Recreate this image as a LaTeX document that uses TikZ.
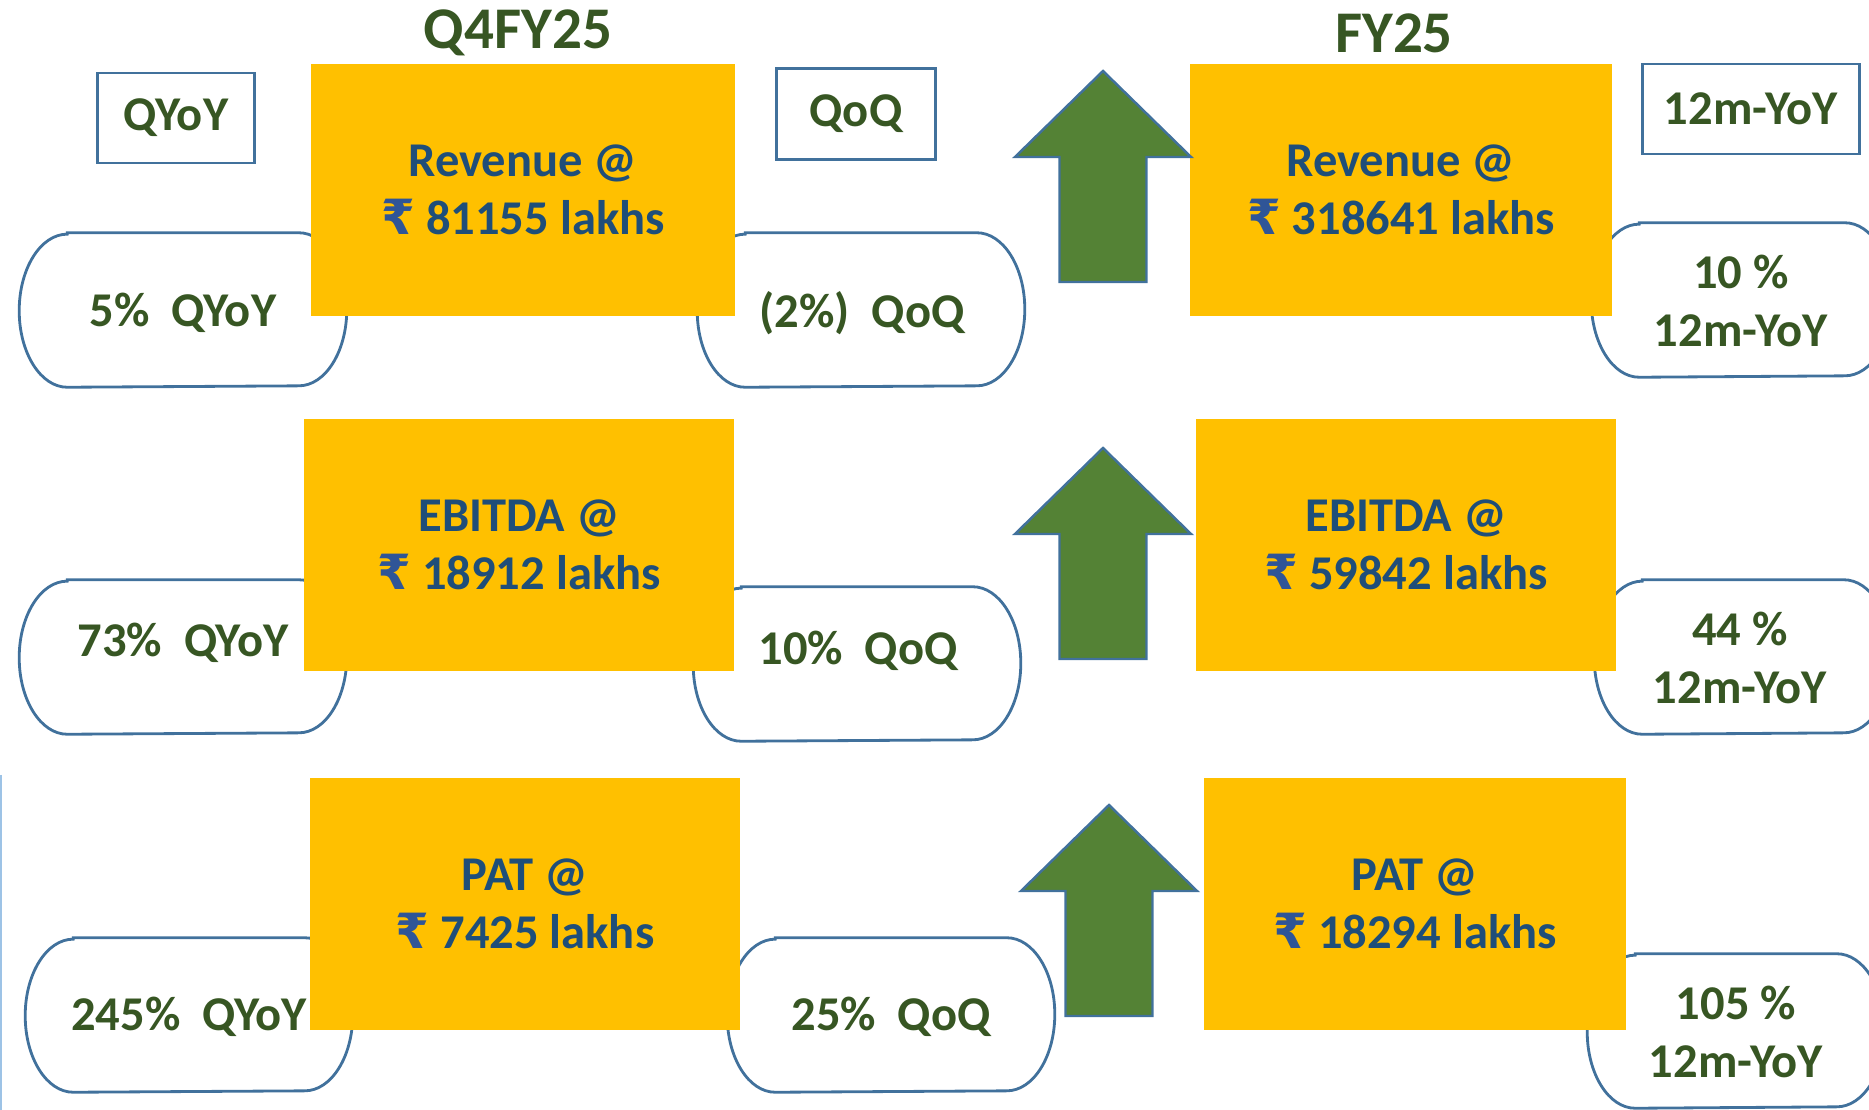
\documentclass[tikz,border=0pt]{standalone}
\usepackage{fontspec}
\setmainfont{Carlito}
\newfontfamily\rupeefont{DejaVu Sans}
\usetikzlibrary{positioning}
\definecolor{metricyellow}{HTML}{FFC000}
\definecolor{metricblue}{HTML}{1F4E79}
\definecolor{rupeeblue}{HTML}{2F5597}
\definecolor{growthgreen}{HTML}{375623}
\definecolor{arrowgreen}{HTML}{548235}
\definecolor{outlineblue}{HTML}{41719C}
\definecolor{edgeblue}{HTML}{9DC3E6}
\newcommand{\inr}{{\color{rupeeblue}\rupeefont\bfseries ₹}}

\begin{document}
\begin{tikzpicture}[x=0.01cm, y=-0.01cm]
\tikzstyle{metric} = [rectangle, minimum width=4.23cm, minimum height=2.52cm, inner sep=0pt, fill=metricyellow, text=metricblue, align=center, font=\fontsize{13.8}{16.6}\selectfont\bfseries]
\tikzstyle{tag} = [rectangle, minimum height=0.9cm, inner sep=0pt, draw=outlineblue, line width=0.8pt, text=growthgreen, font=\fontsize{13.8}{16.6}\selectfont\bfseries]
\tikzstyle{growth} = [inner sep=0pt, text=growthgreen, align=center, font=\fontsize{13.8}{16.6}\selectfont\bfseries]
\tikzstyle{heading} = [inner sep=0pt, text=growthgreen, font=\fontsize{16.8}{20}\selectfont\bfseries]
\tikzstyle{pillline} = [draw=outlineblue, line width=0.8pt]
\tikzstyle{pill} = [rectangle, minimum width=3.26cm, minimum height=1.53cm, inner sep=0pt,
  append after command={\pgfextra{\draw[pillline]
    ([xshift=0.48cm]\tikzlastnode.north west) -- ([xshift=-0.48cm]\tikzlastnode.north east)
    arc[start angle=90, end angle=-90, x radius=0.48cm, y radius=0.765cm]
    -- ([xshift=0.48cm]\tikzlastnode.south west)
    arc[start angle=270, end angle=90, x radius=0.48cm, y radius=0.765cm] -- cycle;}}]
\tikzstyle{uparrow} = [fill=arrowgreen, draw=outlineblue, line width=0.7pt, line join=miter]

\useasboundingbox (0,0) rectangle (1869,1110);
\draw[edgeblue, line width=0.6pt] (1,775) -- (1,1110);

% Growth pills (behind the metric boxes)
\node (pillRevQ) [pill] at (183,310) {};
\node (pillRevQoQ) [pill] at (861,310) {};
\node (pillRevFY) [pill, minimum width=3cm] at (1742,300) {};
\node (pillEbitdaQ) [pill] at (183,657) {};
\node (pillEbitdaQoQ) [pill] at (857,664) {};
\node (pillEbitdaFY) [pill, minimum width=2.96cm] at (1743,657) {};
\node (pillPatQ) [pill] at (189,1015) {};
\node (pillPatQoQ) [pill] at (891,1015) {};
\node (pillPatFY) [pill, minimum width=2.96cm] at (1736,1031) {};

% Metric boxes
\node (revQ) [metric] at (523,190) {Revenue @\\\inr\ 81155 lakhs};
\node (ebitdaQ) [metric, minimum width=4.29cm] at (519,545) {EBITDA @\\\inr\ 18912 lakhs};
\node (patQ) [metric, minimum width=4.3cm] at (525,904) {PAT @\\\inr\ 7425 lakhs};
\node (revFY) [metric, minimum width=4.22cm] at (1401,190) {Revenue @\\\inr\ 318641 lakhs};
\node (ebitdaFY) [metric, minimum width=4.2cm] at (1406,545) {EBITDA @\\\inr\ 59842 lakhs};
\node (patFY) [metric, minimum width=4.22cm] at (1415,904) {PAT @\\\inr\ 18294 lakhs};

% Up arrows
\foreach \ax/\ay in {1103/71, 1103/448, 1109/805}
  \draw[uparrow] (\ax,\ay) -- ++(88,86) -- ++(-44.5,0) -- ++(0,125) -- ++(-87,0) -- ++(0,-125) -- ++(-44.5,0) -- cycle;

% Column headings and tags
\node (headQ) [heading] at (518,33) {Q4FY25};
\node (headFY) [heading] at (1394,33) {FY25};
\node (tagQYoY) [tag, minimum width=1.57cm] at (176,118) {QYoY};
\node (tagQoQ) [tag, minimum width=1.59cm, minimum height=0.91cm] at (856,114) {QoQ};
\node (tagFY) [tag, minimum width=2.17cm] at (1751,109) {12m-YoY};

% Growth figures
\node (gRevQ) [growth] at (183,313) {5\%~~QYoY};
\node (gRevQoQ) [growth] at (862,313) {(2\%)~~QoQ};
\node (gRevFY) [growth] at (1741,301) {10 \%\\12m-YoY};
\node (gEbitdaQ) [growth] at (183,643) {73\%~~QYoY};
\node (gEbitdaQoQ) [growth] at (858,651) {10\%~~QoQ};
\node (gEbitdaFY) [growth] at (1740,658) {44 \%\\12m-YoY};
\node (gPatQ) [growth] at (189,1017) {245\%~~QYoY};
\node (gPatQoQ) [growth] at (891,1017) {25\%~~QoQ};
\node (gPatFY) [growth] at (1736,1032) {105 \%\\12m-YoY};
\end{tikzpicture}
\end{document}
